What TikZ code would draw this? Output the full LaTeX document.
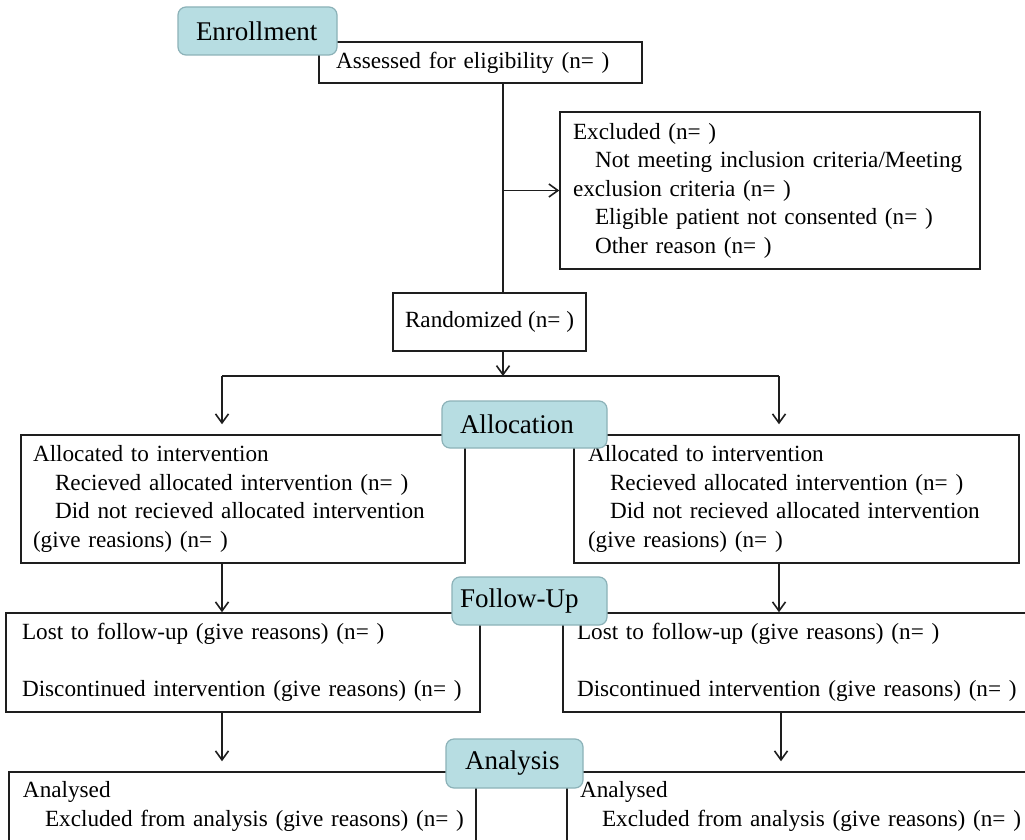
\documentclass[tikz,border=0pt]{standalone}
\usepackage{fontspec}
\setmainfont{Liberation Serif}
\usetikzlibrary{arrows.meta}
\definecolor{tagfill}{RGB}{183,221,226}
\definecolor{tagdraw}{RGB}{140,178,184}
\definecolor{boxdraw}{RGB}{30,30,30}
\newcommand{\ind}{\hspace*{22pt}}
\begin{document}
\begin{tikzpicture}[x=1pt,y=-1pt,
  box/.style={draw=boxdraw, line width=1.5pt, fill=white, align=left, inner ysep=0pt,
    font=\fontsize{23.2}{28.5}\selectfont, text=black},
  tag/.style={draw=tagdraw, fill=tagfill, line width=1.2pt, rounded corners=8pt,
    inner ysep=0pt, align=left, font=\fontsize{27}{32}\selectfont, text=black},
  conn/.style={line width=1.5pt, draw=boxdraw},
  arr/.style={conn, -{Straight Barb[length=9pt,width=13pt,line width=1.6pt]}}]
\useasboundingbox[fill=white] (0,0) rectangle (1025,840);

% boxes
\node[box, text width=289pt, inner xsep=17pt, minimum height=41pt] (assess) at (480.5,62.5)
  {Assessed for eligibility (n= )};
\node[box, text width=394pt, inner xsep=13pt, minimum height=157pt] (excl) at (770,190.5)
  {Excluded (n= )\\ \ind\mbox{Not meeting inclusion criteria/Meeting}\\ exclusion criteria (n= )\\
   \ind\mbox{Eligible patient not consented (n= )}\\ \ind Other reason (n= )};
\node[box, align=center, inner xsep=0pt, minimum width=193pt, minimum height=58pt] (rand) at (489.5,322)
  {Randomized (n= )};
\node[box, text width=420pt, inner xsep=12pt, minimum height=128pt] (allocL) at (243,499)
  {Allocated to intervention\\ \ind\mbox{Recieved allocated intervention (n= )}\\
   \ind\mbox{Did not recieved allocated intervention}\\ (give reasions) (n= )};
\node[box, text width=417pt, inner xsep=14pt, minimum height=128pt] (allocR) at (796.5,499)
  {Allocated to intervention\\ \ind\mbox{Recieved allocated intervention (n= )}\\
   \ind\mbox{Did not recieved allocated intervention}\\ (give reasions) (n= )};
\node[box, text width=442pt, inner xsep=16pt, minimum height=99pt] (lostL) at (243,662.5)
  {Lost to follow-up (give reasons) (n= )\\ \mbox{}\\ \mbox{Discontinued intervention (give reasons) (n= )}};
\node[box, text width=452pt, inner xsep=14pt, minimum height=99pt] (lostR) at (803,662.5)
  {Lost to follow-up (give reasons) (n= )\\ \mbox{}\\ \mbox{Discontinued intervention (give reasons) (n= )}};
\node[box, text width=439pt, inner xsep=14pt, minimum height=69pt] (analL) at (242.5,806.5)
  {Analysed\\ \ind\mbox{Excluded from analysis (give reasons) (n= )}};
\node[box, text width=450pt, inner xsep=13pt, minimum height=69pt] (analR) at (805,806.5)
  {Analysed\\ \ind\mbox{Excluded from analysis (give reasons) (n= )}};

% connectors
\coordinate (spine) at (503,0);
\coordinate (split) at (503,376);
\coordinate (splitL) at (222,376);
\coordinate (splitR) at (779,376);
\coordinate (colL) at (222,0);
\coordinate (colR) at (781,0);
\draw[conn] (assess.south -| spine) -- (rand.north -| spine);
\draw[arr] (spine |- excl.west) -- (excl.west);
\draw[arr] (rand.south -| spine) -- (split);
\draw[conn] (splitL) -- (splitR);
\draw[arr, shorten >=10pt] (splitL) -- (allocL.north -| splitL);
\draw[arr, shorten >=10pt] (splitR) -- (allocR.north -| splitR);
\draw[arr] (allocL.south -| splitL) -- (lostL.north -| splitL);
\draw[arr] (allocR.south -| splitR) -- (lostR.north -| splitR);
\draw[arr, shorten >=10pt] (lostL.south -| colL) -- (analL.north -| colL);
\draw[arr, shorten >=10pt] (lostR.south -| colR) -- (analR.north -| colR);

% stage tags
\node[tag, text width=123pt, inner xsep=18pt, minimum height=48pt] (tEnroll) at (257.5,31) {Enrollment};
\node[tag, text width=129pt, inner xsep=18pt, minimum height=47pt] (tAlloc) at (524.5,424.5) {Allocation};
\node[tag, text width=139pt, inner xsep=8pt, minimum height=48pt] (tFollow) at (529.5,601) {Follow-Up};
\node[tag, text width=99pt, inner xsep=19pt, minimum height=49pt] (tAnal) at (514.5,763.5) {Analysis};
\end{tikzpicture}
\end{document}
